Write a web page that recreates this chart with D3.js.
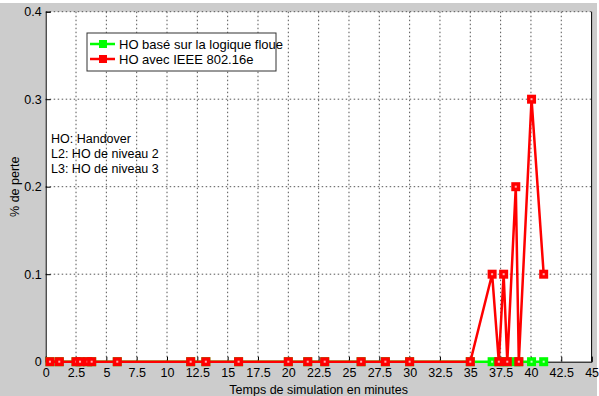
<!DOCTYPE html>
<html>
<head>
<meta charset="utf-8">
<script src="https://cdn.jsdelivr.net/npm/d3@7"></script>
<style>
  body { margin: 0; background: #fff; }
  svg { display: block; font-family: "Liberation Sans", Arial, sans-serif; }
  .grid line { stroke: #555; stroke-dasharray: 1.5,2.5; stroke-width: 1; }
</style>
</head>
<body>
<div id="chart"></div>
<script>
// data
var times = [0.35, 1.12, 2.5, 2.83, 3.46, 3.79, 5.9, 11.95, 13.2, 15.9, 20, 21.6, 23, 26, 28, 30,
             35, 36.8, 37.35, 37.75, 38.05, 38.75, 39.0, 40.05, 41.05];
var ieeeLoss = [0, 0, 0, 0, 0, 0, 0, 0, 0, 0, 0, 0, 0, 0, 0, 0,
                0, 0.1, 0, 0.1, 0, 0.2, 0, 0.3, 0.1];
var fuzzyLoss = [0, 0, 0, 0, 0, 0, 0, 0, 0, 0, 0, 0, 0, 0, 0, 0,
                 0, 0, 0, 0, 0, 0, 0, 0, 0];
var xTicks = d3.range(0, 45.01, 2.5);
var yTicks = [0, 0.1, 0.2, 0.3, 0.4];
var seriesNames = ["HO basé sur la logique floue", "HO avec IEEE 802.16e"];
var seriesColors = ["#00ff00", "#ff0000"];
var notes = ["HO: Handover", "L2: HO de niveau 2", "L3: HO de niveau 3"];

var W = 599, H = 396;
var margin = {top: 11.7, left: 45.7, right: 7.4, bottom: 34.3};
var width = W - margin.left - margin.right,
    height = H - margin.top - margin.bottom;

var svg = d3.select("#chart").append("svg")
    .attr("width", W).attr("height", H);

// grey figure background
svg.append("rect").attr("x", 0).attr("y", 3).attr("width", 597).attr("height", H - 3)
    .attr("fill", "#cccccc");

var g = svg.append("g")
    .attr("transform", "translate(" + margin.left + "," + margin.top + ")");

var x = d3.scaleLinear().domain([0, 45]).range([0, width]);
var y = d3.scaleLinear().domain([0, 0.4]).range([height, 0]);

g.append("rect").attr("width", width).attr("height", height).attr("fill", "#fff");

// grid
g.append("g").attr("class", "grid")
  .selectAll("line").data(xTicks.slice(1, -1)).join("line")
    .attr("x1", function(d) { return x(d); }).attr("x2", function(d) { return x(d); })
    .attr("y1", 0).attr("y2", height);
g.append("g").attr("class", "grid")
  .selectAll("line").data(yTicks.slice(1)).join("line")
    .attr("x1", 0).attr("x2", width)
    .attr("y1", function(d) { return y(d); }).attr("y2", function(d) { return y(d); });

// axes (ticks point inward, matlab style)
var fmt = function(d) { return d3.format("")(+d.toFixed(2)); };
var xAxis = g.append("g").attr("transform", "translate(0," + height + ")")
    .call(d3.axisBottom(x).tickValues(xTicks).tickSize(-5).tickPadding(6).tickFormat(fmt));
var yAxis = g.append("g")
    .call(d3.axisLeft(y).tickValues(yTicks).tickSize(-5).tickPadding(4).tickFormat(fmt));
[xAxis, yAxis].forEach(function(a) {
  a.attr("font-family", null).attr("font-size", 12.5);
  a.selectAll("text").attr("fill", "#000");
  a.selectAll("line").attr("stroke", "#000");
  a.select(".domain").attr("stroke", "#000");
});
// right edge of the box
g.append("line").attr("x1", width).attr("x2", width).attr("y1", 0).attr("y2", height)
    .attr("stroke", "#000");

// series
var line = d3.line()
    .x(function(d) { return x(d[0]); })
    .y(function(d) { return y(d[1]); });

[fuzzyLoss, ieeeLoss].forEach(function(vals, i) {
  var pts = times.map(function(t, k) { return [t, vals[k]]; });
  var col = seriesColors[i];
  g.append("path").datum(pts)
      .attr("d", line).attr("fill", "none")
      .attr("stroke", col).attr("stroke-width", 2.5).attr("stroke-linejoin", "miter");
  var m = g.append("g").selectAll("g").data(pts).join("g")
      .attr("transform", function(d) { return "translate(" + x(d[0]) + "," + y(d[1]) + ")"; });
  m.append("rect").attr("x", -4.5).attr("y", -4.5).attr("width", 9).attr("height", 9)
      .attr("fill", col);
  m.append("rect").attr("x", -1).attr("y", -1).attr("width", 2).attr("height", 2)
      .attr("fill", i ? "#ffb0b0" : "#c0ffc0");
});

// legend
var leg = svg.append("g").attr("transform", "translate(87,33)");
leg.append("rect").attr("width", 189).attr("height", 38)
    .attr("fill", "#fff").attr("stroke", "#333");
seriesNames.forEach(function(name, i) {
  var yy = 11 + i * 15;
  leg.append("line").attr("x1", 3).attr("x2", 28).attr("y1", yy).attr("y2", yy)
      .attr("stroke", seriesColors[i]).attr("stroke-width", 2.5);
  leg.append("rect").attr("x", 12).attr("y", yy - 4).attr("width", 8).attr("height", 8)
      .attr("fill", seriesColors[i]);
  leg.append("text").attr("x", 32).attr("y", yy + 4.5)
      .attr("font-size", 13).text(name);
});

// annotations
notes.forEach(function(t, i) {
  svg.append("text").attr("x", 51).attr("y", 143 + i * 15)
      .attr("font-size", 12.5).text(t);
});

// axis titles
svg.append("text").attr("x", margin.left + width / 2).attr("y", 394)
    .attr("text-anchor", "middle").attr("font-size", 12.5)
    .text("Temps de simulation en minutes");
svg.append("text")
    .attr("transform", "translate(19," + (margin.top + height / 2) + ") rotate(-90)")
    .attr("text-anchor", "middle").attr("font-size", 12.5)
    .text("% de perte");
</script>
</body>
</html>
